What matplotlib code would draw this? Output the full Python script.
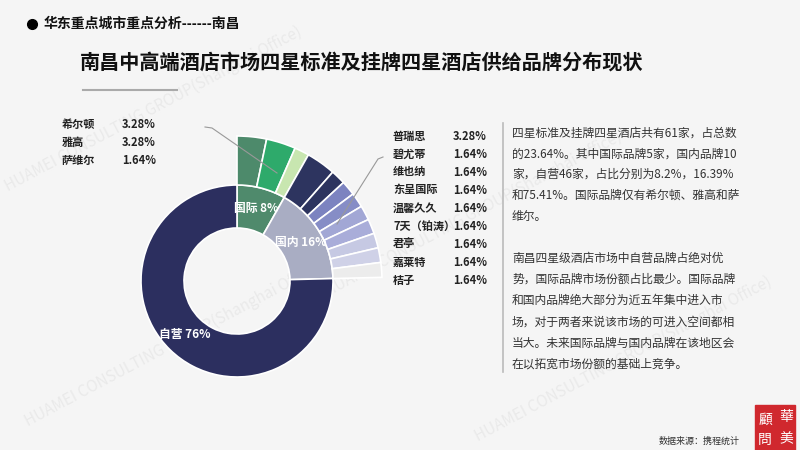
import matplotlib.pyplot as plt
import matplotlib.patches as mpatches

plt.rcParams['font.family'] = ['Noto Sans CJK SC', 'DejaVu Sans']

# 内圈：品牌类型占比
market_names = ['国际', '国内', '自营']
market_share = [8.2, 16.39, 75.41]
market_labels = ['国际 8%', '国内 16%', '自营 76%']
market_colors = ['#4f8a6c', '#a9adc3', '#2c2f5f']

# 外圈：国际品牌
intl_brands = ['希尔顿', '雅高', '萨维尔']
intl_share = [3.28, 3.28, 1.64]
intl_colors = ['#4d8a6b', '#2eaa6b', '#c8e6b0']

# 外圈：国内品牌
dom_brands = ['普瑞思', '碧尤蒂', '维也纳', '东呈国际', '温馨久久', '7天（铂涛）', '君亭', '嘉莱特', '桔子']
dom_share = [3.28, 1.64, 1.64, 1.64, 1.64, 1.64, 1.64, 1.64, 1.64]
dom_colors = ['#2d345f', '#2d345f', '#7c83c0', '#868dc6', '#a2a7d5', '#a9add9', '#c6c9e3', '#cfd1e7', '#ececec']

para1 = ['四星标准及挂牌四星酒店共有61家，占总数',
         '的23.64%。其中国际品牌5家，国内品牌10',
         '家，自营46家，占比分别为8.2%，16.39%',
         '和75.41%。国际品牌仅有希尔顿、雅高和萨',
         '维尔。']
para2 = ['南昌四星级酒店市场中自营品牌占绝对优',
         '势，国际品牌市场份额占比最少。国际品牌',
         '和国内品牌绝大部分为近五年集中进入市',
         '场，对于两者来说该市场的可进入空间都相',
         '当大。未来国际品牌与国内品牌在该地区会',
         '在以拓宽市场份额的基础上竞争。']

fig = plt.figure(figsize=(8, 4.5), dpi=100, facecolor='#f5f5f5')
ax = fig.add_axes([0, 0, 1, 1])
ax.set_facecolor('#f5f5f5')

cx, cy = 237, 281

# 水印
for (wx, wy) in [(10, 195), (30, 430), (330, 300), (480, 445)]:
    ax.text(wx, wy, 'HUAMEI CONSULTING GROUP(Shanghai Office)', rotation=28,
            rotation_mode='anchor', fontsize=11, color='#d0d0d0', alpha=0.3,
            ha='left', va='bottom', zorder=0)

# 内圈
ax.pie(market_share, radius=96, center=(cx, cy), startangle=-90, counterclock=True,
       colors=market_colors, labels=market_labels, labeldistance=0.78,
       textprops=dict(ha='center', va='center', color='white', fontsize=8.5, weight='bold'),
       wedgeprops=dict(width=43, edgecolor='white', linewidth=1.2), frame=True)

# 外圈（剩余部分透明）
outer_vals = intl_share + dom_share + [market_share[2]]
outer_cols = intl_colors + dom_colors + ['none']
wedges, _ = ax.pie(outer_vals, radius=145, center=(cx, cy), startangle=-90, counterclock=True,
                   colors=outer_cols,
                   wedgeprops=dict(width=49, edgecolor='white', linewidth=1.2), frame=True)
wedges[-1].set_edgecolor('none')

ax.set_xlim(0, 800)
ax.set_ylim(450, 0)
ax.axis('off')

# 标题
ax.plot(32, 24, 'o', color='black', ms=7)
ax.text(44, 24, '华东重点城市重点分析------南昌', fontsize=10, weight='bold', va='center', color='#111')
ax.text(80, 62, '南昌中高端酒店市场四星标准及挂牌四星酒店供给品牌分布现状', fontsize=14.5,
        weight='bold', va='center', color='#111')
ax.plot([83, 177], [90, 90], color='#aaaaaa', lw=1.5)

# 左侧品牌表
for i, (b, s) in enumerate(zip(intl_brands, intl_share)):
    y = 124 + i * 18
    ax.text(62, y, b, fontsize=8, weight='bold', va='center', color='#222')
    ax.text(122, y, f'{s:.2f}%', fontsize=8, weight='bold', va='center', color='#222')

# 右侧品牌表
for i, (b, s) in enumerate(zip(dom_brands, dom_share)):
    y = 136 + i * 18
    ax.text(393, y, b, fontsize=8, weight='bold', va='center', color='#222')
    ax.text(487, y, f'{s:.2f}%', fontsize=8, weight='bold', va='center', ha='right', color='#222')

# 引导线
ax.plot([205, 212, 277], [127, 128, 173], color='#999999', lw=0.8)
ax.plot([383, 378, 337], [157, 159, 224], color='#999999', lw=0.8)

# 右侧说明文字
ax.plot([503, 503], [123, 372], color='#bbbbbb', lw=1.2)
for i, line in enumerate(para1):
    ax.text(512, 133 + i * 20.8, line, fontsize=8.5, va='center', color='#333')
for i, line in enumerate(para2):
    ax.text(512, 258 + i * 21.3, line, fontsize=8.5, va='center', color='#333')

# 数据来源与标志
ax.text(740, 441, '数据来源：携程统计', fontsize=6.5, style='italic', ha='right', va='center', color='#333')
ax.add_patch(mpatches.Rectangle((755, 405), 40, 45, color='#d0282e'))
for ch, (lx, ly) in zip(['華', '美', '顧', '問'], [(786, 417), (786, 439), (765, 420), (765, 440)]):
    ax.text(lx, ly, ch, fontsize=10, color='white', ha='center', va='center',
            family=['Noto Sans CJK TC', 'DejaVu Sans'])

fig.savefig('out.png', dpi=100, facecolor=fig.get_facecolor())
